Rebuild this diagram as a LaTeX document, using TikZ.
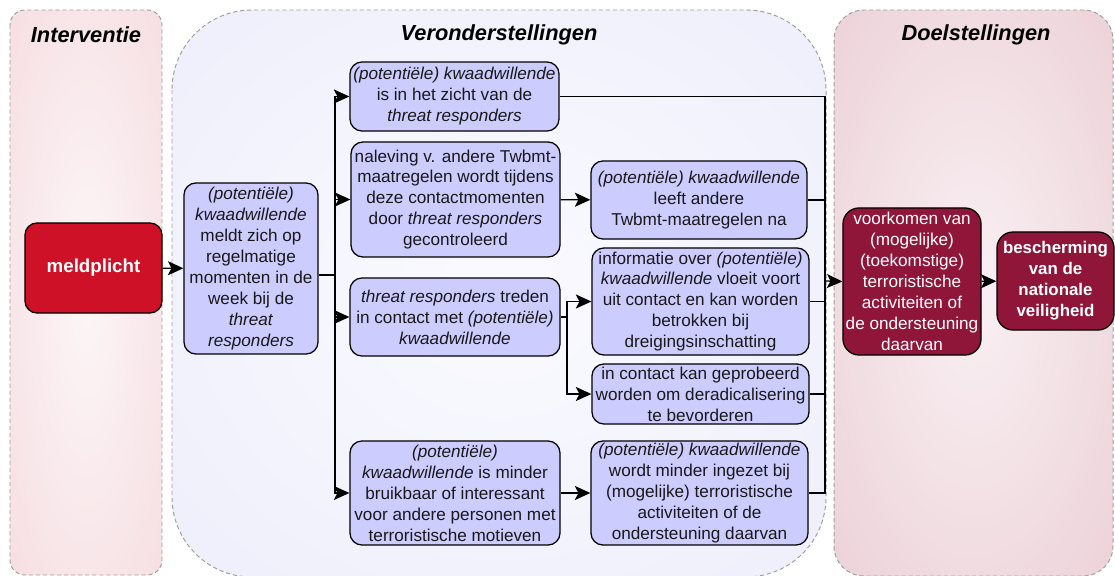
\documentclass[tikz,border=0pt]{standalone}
\usepackage{fontspec}
\setmainfont{Liberation Sans}
\usetikzlibrary{arrows.meta}

\definecolor{meldrood}{RGB}{206,17,38}
\definecolor{lila}{RGB}{204,204,255}
\definecolor{bordeaux}{RGB}{143,22,56}
\definecolor{intmid}{RGB}{252,246,247}
\definecolor{intrand}{RGB}{244,213,218}
\definecolor{vermid}{RGB}{250,250,255}
\definecolor{verrand}{RGB}{234,234,250}
\definecolor{doelmid}{RGB}{249,240,243}
\definecolor{doelrand}{RGB}{231,198,206}

\pgfdeclareradialshading{intshade}{\pgfpointorigin}{color(0bp)=(intmid); color(50bp)=(intrand); color(100bp)=(intrand)}
\pgfdeclareradialshading{vershade}{\pgfpointorigin}{color(0bp)=(vermid); color(50bp)=(verrand); color(100bp)=(verrand)}
\pgfdeclareradialshading{doelshade}{\pgfpointorigin}{color(0bp)=(doelmid); color(50bp)=(doelrand); color(100bp)=(doelrand)}

\begin{document}
\begin{tikzpicture}[x=0.025cm, y=-0.025cm,
    kolom/.style={draw=gray!75, line width=0.7pt, dash pattern=on 3pt off 2pt, shade},
    titel/.style={font=\fontsize{15.5}{18}\selectfont\bfseries\itshape},
    aanname/.style 2 args={draw=black, line width=0.9pt, fill=lila, rounded corners=0.3cm,
        align=center, inner sep=1pt, text=black!90, minimum width=#1, minimum height=#2,
        font=\fontsize{12.2}{14.9}\selectfont},
    doel/.style 2 args={aanname={#1}{#2}, fill=bordeaux, text=white, rounded corners=0.4cm},
    lijn/.style={line width=0.9pt},
    pijl/.style={lijn, -{Stealth[length=11pt, width=10pt, inset=2.5pt]}}]
  \useasboundingbox (0,0) rectangle (1115,576);

  % kolommen
  \draw[kolom, shading=intshade, rounded corners=0.375cm] (10,10) rectangle (162,575);
  \draw[kolom, shading=vershade, rounded corners=2cm] (172,10) rectangle (826,577);
  \draw[kolom, shading=doelshade, rounded corners=0.75cm] (834,10) rectangle (1113,576);
  \node[titel] (tint) at (86,35) {Interventie};
  \node[titel] (tver) at (499,35) {Veronderstellingen};
  \node[titel] (tdoel) at (976,35) {Doelstellingen};

  % interventie
  \node[aanname={3.425cm}{2.25cm}, fill=meldrood, text=white,
        font=\fontsize{13.3}{16}\selectfont\bfseries] (meld) at (93.5,268) {meldplicht};

  % veronderstellingen
  \node[aanname={3.35cm}{4.275cm}] (kwmeld) at (251,268.5)
    {\textit{(potentiële)}\\\textit{kwaadwillende}\\meldt zich op\\regelmatige\\momenten in de\\week bij de\\\textit{threat}\\\textit{responders}};
  \node[aanname={5.225cm}{1.725cm}] (zicht) at (454.5,96.5)
    {\textit{(potentiële) kwaadwillende}\\is in het zicht van de\\\textit{threat responders}};
  \node[aanname={5.225cm}{2.875cm}] (naleving) at (455.5,199.5)
    {naleving v. andere Twbmt-\\maatregelen wordt tijdens\\deze contactmomenten\\door \textit{threat responders}\\gecontroleerd};
  \node[aanname={5.25cm}{1.95cm}] (contact) at (455,317)
    {\textit{threat responders} treden\\in contact met \textit{(potentiële)}\\\textit{kwaadwillende}};
  \node[aanname={5.25cm}{2.6cm}] (bruikbaar) at (455,493)
    {\textit{(potentiële)}\\\textit{kwaadwillende} is minder\\bruikbaar of interessant\\voor andere personen met\\terroristische motieven};
  \node[aanname={5.4cm}{1.95cm}] (naleeft) at (699,200)
    {\textit{(potentiële) kwaadwillende}\\leeft andere\\Twbmt-maatregelen na};
  \node[aanname={5.425cm}{2.675cm}] (info) at (700.5,301.5)
    {informatie over \textit{(potentiële)}\\\textit{kwaadwillende} vloeit voort\\uit contact en kan worden\\betrokken bij\\dreigingsinschatting};
  \node[aanname={5.425cm}{1.5cm}] (derad) at (700.5,394)
    {in contact kan geprobeerd\\worden om deradicalisering\\te bevorderen};
  \node[aanname={5.425cm}{2.6cm}] (ingezet) at (699.5,493)
    {\textit{(potentiële) kwaadwillende}\\wordt minder ingezet bij\\(mogelijke) terroristische\\activiteiten of de\\ondersteuning daarvan};

  % doelstellingen
  \node[doel={3.45cm}{3.675cm}] (voorkomen) at (912,281.5)
    {voorkomen van\\(mogelijke)\\(toekomstige)\\terroristische\\activiteiten of\\de ondersteuning\\daarvan};
  \node[doel={2.925cm}{2.45cm}, font=\fontsize{12}{14.9}\selectfont\bfseries] (bescherming) at (1055.5,281)
    {bescherming\\van de\\nationale\\veiligheid};

  % verbindingen
  \coordinate (tak1) at (335,275);
  \coordinate (tak2) at (567,317);
  \coordinate (tak3) at (825,281);
  \draw[pijl] (meld) -- (kwmeld);
  \draw[lijn] (kwmeld.east |- tak1) -- (tak1);
  \foreach \doelnode in {zicht,naleving,contact,bruikbaar}
    \draw[pijl] (tak1) |- (\doelnode.west);
  \draw[pijl] (naleving) -- (naleeft);
  \draw[lijn] (contact.east) -- (tak2);
  \draw[pijl] (tak2) |- (info.west);
  \draw[pijl] (tak2) |- (derad.west);
  \draw[pijl] (bruikbaar) -- (ingezet);
  \foreach \bron in {zicht,naleeft,info,derad,ingezet}
    \draw[lijn] (\bron.east) -| (tak3);
  \draw[pijl] (tak3) -- (voorkomen.west);
  \draw[pijl] (voorkomen) -- (bescherming);
\end{tikzpicture}
\end{document}
